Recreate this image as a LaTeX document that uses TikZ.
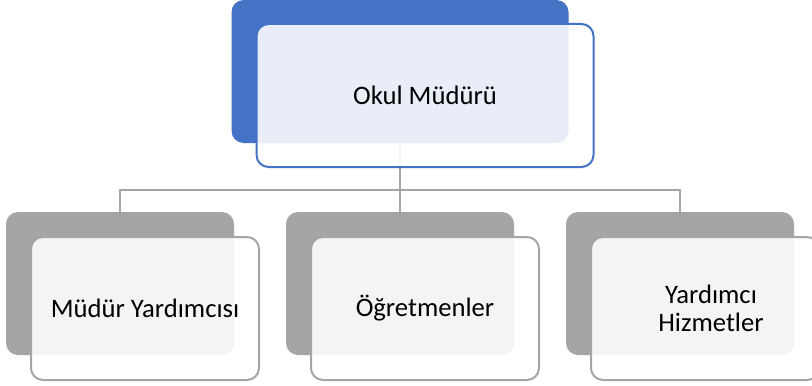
\documentclass[tikz,border=0pt]{standalone}
\usepackage{fontspec}
\setmainfont{Carlito}
\usetikzlibrary{positioning}

\newdimen\pxu \pxu=0.75pt
\definecolor{ofisMavi}{HTML}{4472C4}
\definecolor{ofisGri}{HTML}{A5A5A5}

\begin{document}
\begin{tikzpicture}[x=0.75pt, y=-0.75pt,
    arka/.style={rounded corners=12\pxu, inner sep=0pt, minimum height=143\pxu},
    on/.style={arka, draw, line width=1.5pt, fill=white, fill opacity=0.88,
        text opacity=1, text=black, align=center,
        font=\fontsize{20}{21}\selectfont},
    baglanti/.style={draw=ofisGri, line width=1.5pt}]

\useasboundingbox (0,0) rectangle (812,385);

% ---- Coordinates ----
\coordinate (M) at (400,71.5);   % okul muduru
\coordinate (Y) at (120,283.5);  % mudur yardimcisi
\coordinate (O) at (400,283.5);  % ogretmenler
\coordinate (H) at (680,283.5);  % yardimci hizmetler
\coordinate (B) at (400,190);    % yatay hat

% ---- Back boxes ----
\node[arka, fill=ofisMavi, minimum width=337\pxu] (mudurArka) at (M) {};
\node[arka, fill=ofisGri, minimum width=228\pxu] (yardArka) at (Y) {};
\node[arka, fill=ofisGri, minimum width=228\pxu] (ogrArka) at (O) {};
\node[arka, fill=ofisGri, minimum width=228\pxu] (hizArka) at (H) {};

% ---- Connectors ----
\draw[baglanti] (mudurArka.south) -- (B);
\draw[baglanti] (B) -| (yardArka.north);
\draw[baglanti] (B) -- (ogrArka.north);
\draw[baglanti] (B) -| (hizArka.north);

% ---- Front boxes ----
\node[on, draw=ofisMavi, minimum width=337\pxu, xshift=25\pxu, yshift=-24\pxu]
    (mudur) at (mudurArka) {Okul Müdürü};
\node[on, draw=ofisGri, minimum width=228\pxu, xshift=25\pxu, yshift=-25\pxu]
    (yard) at (yardArka) {Müdür Yardımcısı};
\node[on, draw=ofisGri, minimum width=228\pxu, xshift=25\pxu, yshift=-25\pxu]
    (ogr) at (ogrArka) {Öğretmenler};
\node[on, draw=ofisGri, minimum width=228\pxu, xshift=25\pxu, yshift=-25\pxu]
    (hiz) at (hizArka) {\hspace*{12\pxu}Yardımcı\\\hspace*{12\pxu}Hizmetler};

\end{tikzpicture}
\end{document}
